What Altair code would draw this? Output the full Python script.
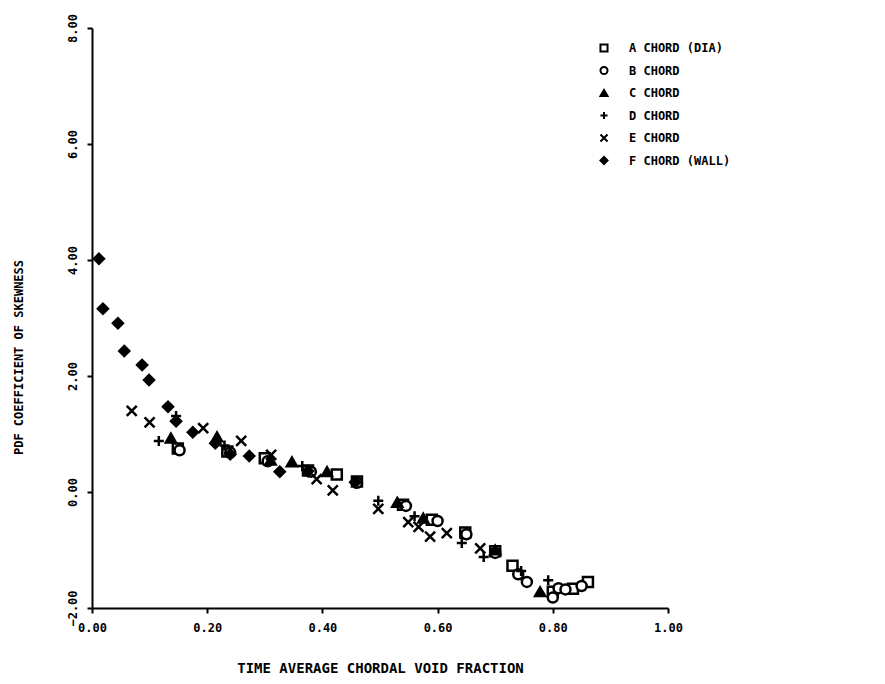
import altair as alt
import pandas as pd

series_names = ["A CHORD (DIA)", "B CHORD", "C CHORD", "D CHORD", "E CHORD", "F CHORD (WALL)"]

a_x = [0.149, 0.235, 0.300, 0.375, 0.425, 0.460, 0.540, 0.590, 0.648, 0.700, 0.730, 0.800, 0.835, 0.861]
a_y = [0.75, 0.70, 0.58, 0.37, 0.30, 0.18, -0.22, -0.48, -0.70, -1.02, -1.27, -1.72, -1.67, -1.55]

b_x = [0.152, 0.240, 0.305, 0.380, 0.460, 0.545, 0.600, 0.650, 0.700, 0.740, 0.755, 0.800, 0.810, 0.822, 0.850]
b_y = [0.72, 0.68, 0.53, 0.35, 0.16, -0.24, -0.50, -0.73, -1.05, -1.42, -1.55, -1.82, -1.66, -1.68, -1.62]

c_x = [0.137, 0.217, 0.310, 0.347, 0.408, 0.530, 0.575, 0.700, 0.778]
c_y = [0.93, 0.95, 0.55, 0.52, 0.35, -0.18, -0.45, -1.00, -1.72]

d_x = [0.116, 0.146, 0.230, 0.365, 0.497, 0.560, 0.642, 0.680, 0.745, 0.792]
d_y = [0.88, 1.31, 0.80, 0.45, -0.15, -0.42, -0.88, -1.12, -1.36, -1.52]

e_x = [0.069, 0.100, 0.193, 0.259, 0.311, 0.390, 0.418, 0.497, 0.549, 0.567, 0.587, 0.616, 0.674]
e_y = [1.40, 1.20, 1.10, 0.88, 0.64, 0.22, 0.03, -0.29, -0.52, -0.60, -0.77, -0.71, -0.97]

f_x = [0.012, 0.019, 0.045, 0.056, 0.087, 0.099, 0.132, 0.146, 0.175, 0.214, 0.240, 0.273, 0.326, 0.375, 0.457]
f_y = [4.02, 3.16, 2.91, 2.43, 2.19, 1.93, 1.47, 1.22, 1.03, 0.84, 0.65, 0.62, 0.35, 0.36, 0.17]

shape_paths = [
    "square",
    "circle",
    "triangle-up",
    "M-1,0L1,0M0,-1L0,1",
    "M-1,-1L1,1M-1,1L1,-1",
    "diamond",
]
fills = ["white", "white", "black", "black", "black", "black"]
strokes = ["black"] * 6

rows = []
for name, xs, ys in zip(series_names, [a_x, b_x, c_x, d_x, e_x, f_x], [a_y, b_y, c_y, d_y, e_y, f_y]):
    for xv, yv in zip(xs, ys):
        rows.append({"series": name, "x": xv, "y": yv})
df = pd.DataFrame(rows)

FONT = "DejaVu Sans Mono"


def legend():
    return alt.Legend(orient="none", legendX=506, legendY=14,
                      symbolSize=50, symbolStrokeWidth=2,
                      labelOffset=19, rowPadding=6.5,
                      labelFont=FONT, labelFontSize=12,
                      labelFontWeight="bold", labelColor="black")


chart = alt.Chart(df).mark_point(
    filled=False, strokeWidth=2.5, size=100, opacity=1
).encode(
    x=alt.X("x:Q", scale=alt.Scale(domain=[0, 1], nice=False, zero=False),
            axis=alt.Axis(values=[0, 0.2, 0.4, 0.6, 0.8, 1.0], format=".2f",
                          title="TIME AVERAGE CHORDAL VOID FRACTION",
                          titleY=60, titleBaseline="middle", titleFontSize=14,
                          labelPadding=9, labelFlush=False, labelOverlap=False)),
    y=alt.Y("y:Q", scale=alt.Scale(domain=[-2, 8], nice=False, zero=False),
            axis=alt.Axis(values=[-2, 0, 2, 4, 6, 8], format=".2f",
                          title="PDF COEFFICIENT OF SKEWNESS",
                          titleX=-74, titleY=329, titleAngle=-90,
                          titleAlign="center", titleBaseline="middle",
                          labelAngle=-90, labelAlign="center", labelBaseline="bottom",
                          labelPadding=8, labelFlush=False, labelOverlap=False)),
    shape=alt.Shape("series:N", title=None,
                    scale=alt.Scale(domain=series_names, range=shape_paths),
                    legend=legend()),
    fill=alt.Fill("series:N", title=None,
                  scale=alt.Scale(domain=series_names, range=fills),
                  legend=legend()),
    stroke=alt.Stroke("series:N", title=None,
                      scale=alt.Scale(domain=series_names, range=strokes),
                      legend=legend()),
).properties(
    width=576, height=580,
    autosize=alt.AutoSizeParams(type="none"),
    padding={"left": 84, "top": 20, "right": 209, "bottom": 68},
).configure_view(stroke=None).configure_axis(
    grid=False, domainColor="black", domainWidth=2, tickColor="black", tickWidth=2,
    tickSize=5, labelFont=FONT, labelFontSize=12, labelFontWeight="bold",
    labelColor="black", titleFont=FONT, titleFontSize=12, titleFontWeight="bold",
    titleColor="black",
)

chart.save("out.html", embed_options={"renderer": "svg", "actions": False})
